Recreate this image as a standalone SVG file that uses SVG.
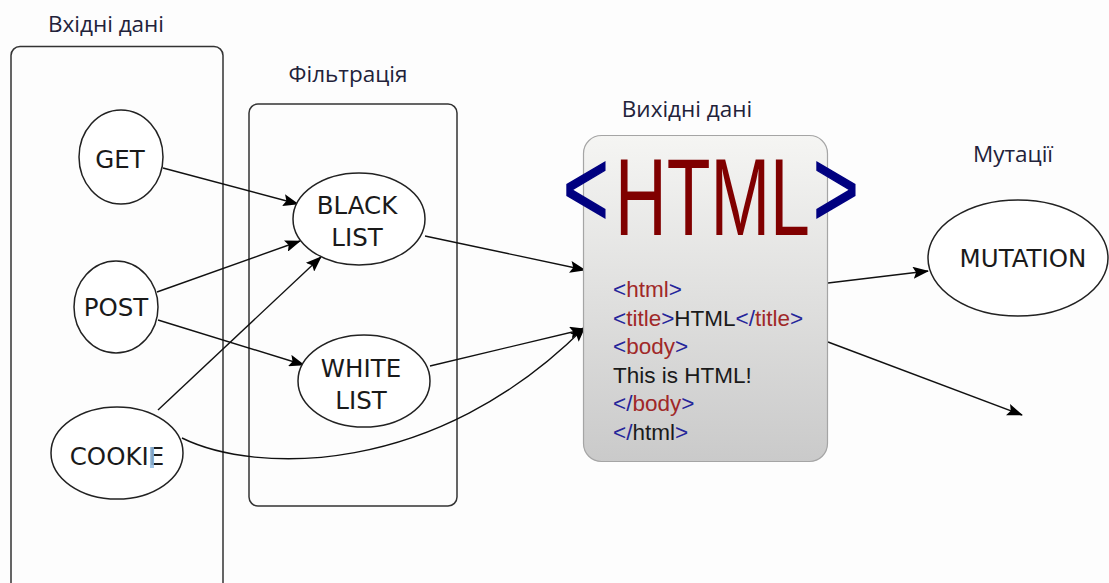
<svg xmlns="http://www.w3.org/2000/svg" width="1109" height="583" viewBox="0 0 1109 583">
  <defs>
    <linearGradient id="docFill" x1="0" y1="0" x2="0" y2="1">
      <stop offset="0" stop-color="#f5f5f3"/>
      <stop offset="1" stop-color="#cacaca"/>
    </linearGradient>
    <marker id="arrow" markerUnits="userSpaceOnUse" markerWidth="16" markerHeight="12" viewBox="0 0 16 12" refX="15" refY="6" orient="auto">
      <path d="M0,0 L16,6 L0,12 L3,6 Z" fill="#000"/>
    </marker>
    <style>
      .group { fill: none; stroke: #333; stroke-width: 1.5; }
      .title { font-family: "Open Sans", "Noto Sans", sans-serif; font-size: 22.5px; fill: #22223a; text-anchor: middle; }
      .node ellipse { fill: #fff; stroke: #222; stroke-width: 1.5; }
      .node text { font-family: "DejaVu Sans", sans-serif; font-size: 24.5px; fill: #1a1a1a; text-anchor: middle; }
      .edge { fill: none; stroke: #111; stroke-width: 1.4; marker-end: url(#arrow); }
      .code { font-family: "Liberation Sans", Arial, sans-serif; font-size: 22.5px; fill: #1a1a1a; }
      .logo { font-family: "Liberation Sans", Arial, sans-serif; font-size: 109px; }
      .angle { fill: #000080; stroke: #000080; stroke-width: 1.5; }
      .b { fill: #25259a; }
      .r { fill: #a02828; }
    </style>
  </defs>

  <rect width="1109" height="583" fill="#fdfdfd"/>

  <!-- section containers and captions -->
  <g id="input-section">
    <rect class="group" x="11" y="46.5" width="212" height="560" rx="9"/>
    <text class="title" x="106" y="32">Вхідні дані</text>
  </g>
  <g id="filter-section">
    <rect class="group" x="249" y="104" width="208" height="402" rx="9"/>
    <text class="title" x="348" y="82">Фільтрація</text>
  </g>
  <g id="output-caption">
    <text class="title" x="687" y="117">Вихідні дані</text>
  </g>
  <g id="mutation-caption">
    <text class="title" x="1013" y="162">Мутації</text>
  </g>

  <!-- connectors -->
  <g id="edges">
    <path class="edge" d="M163,168 L298,204"/>
    <path class="edge" d="M157,292 L300,241"/>
    <path class="edge" d="M158,410 L321,257"/>
    <path class="edge" d="M158,320 L304,365"/>
    <path class="edge" d="M425,236 L585,270"/>
    <path class="edge" d="M430,366 L585,329"/>
    <path class="edge" d="M182,438 C255,474 435,478 585,327"/>
    <path class="edge" d="M828,283 L928,271"/>
    <path class="edge" d="M828,342 L1022,415"/>
  </g>

  <!-- input nodes -->
  <g id="node-get" class="node">
    <ellipse cx="121" cy="157" rx="42" ry="47"/>
    <text x="120" y="168">GET</text>
  </g>
  <g id="node-post" class="node">
    <ellipse cx="116" cy="307" rx="42" ry="46"/>
    <text x="116" y="316">POST</text>
  </g>
  <g id="node-cookie" class="node">
    <ellipse cx="117" cy="453" rx="66" ry="46"/>
    <text x="117" y="465">COOKIE</text>
    <rect x="150" y="447" width="4" height="21" fill="#8fbbe3" opacity="0.85"/>
  </g>

  <!-- filter nodes -->
  <g id="node-blacklist" class="node">
    <ellipse cx="359" cy="219" rx="66" ry="46"/>
    <text x="357" y="214">BLACK</text>
    <text x="357" y="246">LIST</text>
  </g>
  <g id="node-whitelist" class="node">
    <ellipse cx="364" cy="381" rx="66" ry="46"/>
    <text x="361" y="377">WHITE</text>
    <text x="361" y="409">LIST</text>
  </g>

  <!-- output document -->
  <g id="node-html">
    <rect x="583.5" y="135.5" width="244" height="326" rx="18" fill="url(#docFill)" stroke="#a5a5a5" stroke-width="1.2"/>
    <!-- condensed logo glyphs -->
    <text class="logo angle" transform="translate(563,226) scale(0.72,1)">&lt;</text>
    <text class="logo" fill="#800000" transform="translate(615,235) scale(0.657,1)">HTML</text>
    <text class="logo angle" transform="translate(813,226) scale(0.72,1)">&gt;</text>
    <text class="code" x="613" y="297"><tspan class="b">&lt;</tspan><tspan class="r">html</tspan><tspan class="b">&gt;</tspan></text>
    <text class="code" x="613" y="326"><tspan class="b">&lt;</tspan><tspan class="r">title</tspan><tspan class="b">&gt;</tspan>HTML<tspan class="b">&lt;/</tspan><tspan class="r">title</tspan><tspan class="b">&gt;</tspan></text>
    <text class="code" x="613" y="354"><tspan class="b">&lt;</tspan><tspan class="r">body</tspan><tspan class="b">&gt;</tspan></text>
    <text class="code" x="613" y="383">This is HTML!</text>
    <text class="code" x="613" y="411"><tspan class="b">&lt;/</tspan><tspan class="r">body</tspan><tspan class="b">&gt;</tspan></text>
    <text class="code" x="613" y="440"><tspan class="b">&lt;/</tspan>html<tspan class="b">&gt;</tspan></text>
  </g>

  <!-- mutation node -->
  <g id="node-mutation" class="node">
    <ellipse cx="1018" cy="258" rx="90" ry="58"/>
    <text x="1023" y="267">MUTATION</text>
  </g>
</svg>
